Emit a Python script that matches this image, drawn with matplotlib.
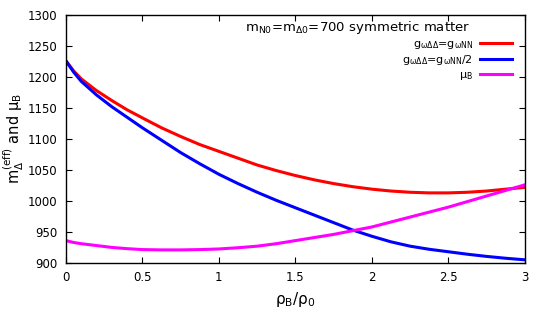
import numpy as np
import matplotlib
matplotlib.use("Agg")
import matplotlib.pyplot as plt

# density ratio rho_B/rho_0
rho = [0.0, 0.05, 0.1, 0.2, 0.3, 0.4, 0.5, 0.625, 0.75, 0.875, 1.0, 1.125, 1.25, 1.375,
       1.5, 1.625, 1.75, 1.875, 2.0, 2.125, 2.25, 2.375, 2.5, 2.625, 2.75, 2.875, 3.0]

# effective Delta mass, g_wDD = g_wNN
m_full = [1226, 1210, 1197, 1178, 1162, 1147, 1134, 1118, 1104, 1091, 1080, 1069, 1058, 1049,
          1041, 1034, 1028, 1023, 1019, 1016, 1014, 1013, 1013, 1014, 1016, 1019, 1022]
# effective Delta mass, g_wDD = g_wNN/2
m_half = [1226, 1208, 1193, 1171, 1152, 1135, 1118, 1098, 1078, 1060, 1043, 1028, 1014, 1001,
          989, 977, 965, 953, 943, 934, 927, 922, 918, 914, 910.5, 907.5, 905]
# baryon chemical potential
mu_b = [936, 933, 931, 928, 925, 923, 921.5, 921, 921, 921.5, 922.5, 924.5, 927, 931,
        936, 941, 946, 952, 958, 966, 974, 982, 990, 999, 1008, 1017, 1026]

labels = [r"$\mathregular{g_{\omega\Delta\Delta}}$=$\mathregular{g_{\omega NN}}$",
          r"$\mathregular{g_{\omega\Delta\Delta}}$=$\mathregular{g_{\omega NN}}$/2",
          r"$\mathregular{\mu_B}$"]

plt.rcParams['font.family'] = ['DejaVu Sans']
plt.rcParams['mathtext.default'] = 'regular'

fig = plt.figure(figsize=(5.45, 3.27), dpi=100)
ax = fig.add_axes([0.121, 0.196, 0.842, 0.758])

ax.plot(rho, m_full, color='#ff0000', lw=2.2, label=labels[0])
ax.plot(rho, m_half, color='#0000ff', lw=2.2, label=labels[1])
ax.plot(rho, mu_b, color='#ff00ff', lw=2.2, label=labels[2])

ax.set_xlim(0, 3)
ax.set_ylim(900, 1300)
ax.set_xticks([0, 0.5, 1, 1.5, 2, 2.5, 3])
ax.set_xticklabels(['0', '0.5', '1', '1.5', '2', '2.5', '3'])
ax.set_yticks(np.arange(900, 1301, 50))
ax.tick_params(direction='in', top=True, right=True, length=4, width=0.8, labelsize=8.5, pad=6)
for s in ax.spines.values():
    s.set_linewidth(1.0)

ax.set_xlabel(r"$\rho_B/\rho_0$", fontsize=11, labelpad=4)
ax.set_ylabel(r"$m_\Delta^{(eff)}$ and $\mu_B$", fontsize=10.5)
ax.yaxis.set_label_coords(-0.088, 0.5)

ax.text(0.880, 0.948, r"$m_{N0}$=$m_{\Delta0}$=700 symmetric matter", transform=ax.transAxes,
        ha='right', va='center', fontsize=9.5)
leg = ax.legend(loc='upper right', bbox_to_anchor=(0.972, 0.905), frameon=False, markerfirst=False,
                fontsize=8, handlelength=2.9, labelspacing=0.25, borderaxespad=0, borderpad=0,
                handletextpad=0.6)
for t in leg.get_texts():
    t.set_ha('right')

fig.savefig("out.png", dpi=100)
